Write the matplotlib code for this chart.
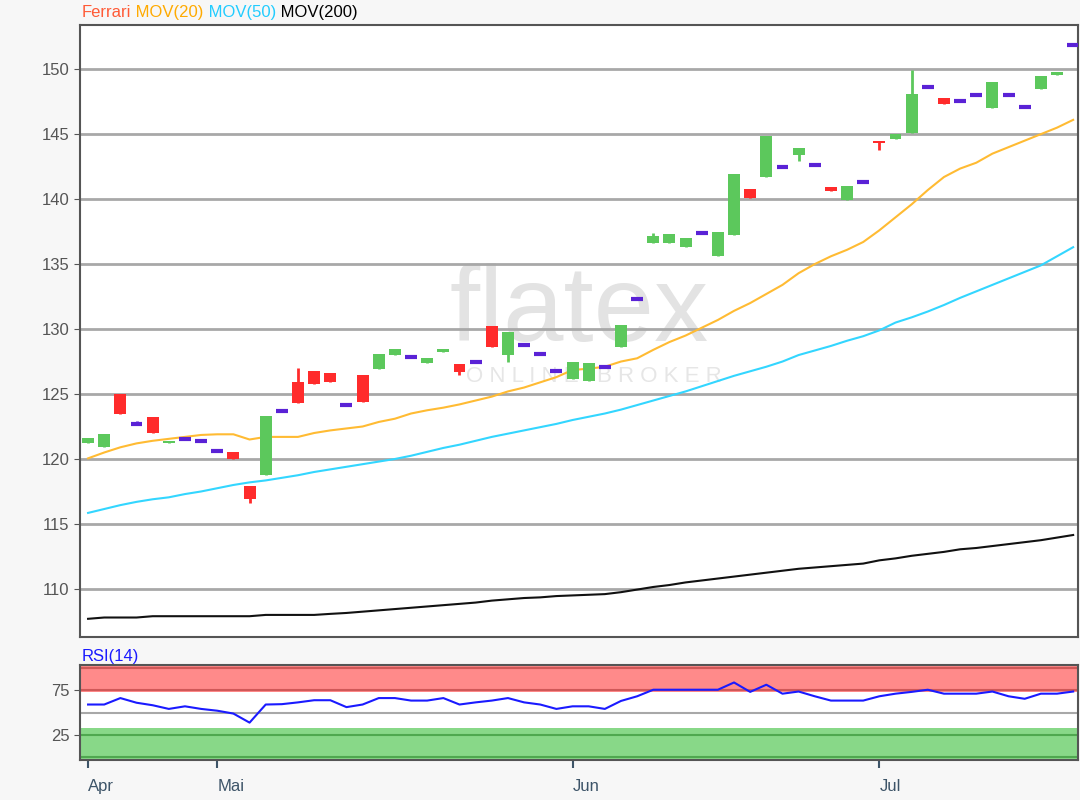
import matplotlib
matplotlib.use("Agg")
import matplotlib.pyplot as plt
import numpy as np

plt.rcParams['font.family'] = ['Liberation Sans', 'DejaVu Sans']

# daily OHLC, Ferrari, 17 Apr - 17 Jul
opens = [121.2, 120.9, 125.0, 122.7, 123.2, 121.2, 121.55, 121.4, 120.65, 120.55,
         117.9, 118.8, 123.7, 125.9, 126.8, 126.65, 124.15, 126.5, 126.9, 128.0,
         127.85, 127.35, 128.25, 127.3, 127.45, 130.2, 128.0, 128.8, 128.05, 126.8,
         126.15, 126.0, 127.1, 128.65, 132.35, 136.6, 136.6, 136.3, 137.4, 135.65,
         137.25, 140.8, 141.7, 142.5, 143.4, 142.65, 140.95, 139.9, 141.3, 144.5,
         144.6, 145.1, 148.65, 147.75, 147.55, 148.05, 147.05, 148.05, 147.1, 148.45,
         149.55, 151.85]
closes = [121.6, 121.9, 123.5, 122.7, 122.0, 121.35, 121.55, 121.4, 120.65, 120.0,
          116.9, 123.3, 123.7, 124.3, 125.8, 125.95, 124.15, 124.4, 128.1, 128.5,
          127.85, 127.75, 128.5, 126.7, 127.45, 128.6, 129.75, 128.8, 128.05, 126.8,
          127.45, 127.4, 127.1, 130.35, 132.35, 137.15, 137.3, 137.0, 137.4, 137.45,
          141.9, 140.1, 144.85, 142.5, 143.9, 142.65, 140.6, 141.0, 141.3, 144.3,
          145.0, 148.1, 148.65, 147.35, 147.55, 148.05, 149.0, 148.05, 147.1, 149.45,
          149.75, 151.85]
highs = [121.6, 121.9, 125.0, 122.95, 123.2, 121.35, 121.55, 121.4, 120.65, 120.55,
         117.9, 123.3, 123.7, 127.0, 126.8, 126.65, 124.15, 126.5, 128.1, 128.5,
         127.85, 127.75, 128.5, 127.3, 127.45, 130.2, 129.75, 128.8, 128.05, 126.8,
         127.45, 127.4, 127.1, 130.35, 132.35, 137.4, 137.3, 137.0, 137.4, 137.45,
         141.9, 140.8, 144.85, 142.5, 143.9, 142.65, 140.95, 141.0, 141.3, 144.5,
         145.0, 149.9, 148.65, 147.75, 147.55, 148.05, 149.0, 148.05, 147.1, 149.45,
         149.75, 151.85]
lows = [121.2, 120.9, 123.5, 122.7, 122.0, 121.2, 121.55, 121.4, 120.65, 120.0,
        116.6, 118.8, 123.7, 124.3, 125.8, 125.95, 124.15, 124.4, 126.9, 128.0,
        127.85, 127.35, 128.25, 126.5, 127.45, 128.6, 127.5, 128.8, 128.05, 126.8,
        126.15, 126.0, 127.1, 128.65, 132.35, 136.6, 136.6, 136.3, 137.4, 135.65,
        137.25, 140.1, 141.7, 142.5, 142.9, 142.65, 140.6, 139.9, 141.3, 143.8,
        144.6, 145.1, 148.65, 147.35, 147.55, 148.05, 147.05, 148.05, 147.1, 148.45,
        149.55, 151.85]

mov20 = [120.05, 120.5, 120.9, 121.2, 121.4, 121.55, 121.7, 121.85, 121.9, 121.9,
         121.5, 121.7, 121.7, 121.7, 122.0, 122.2, 122.35, 122.5, 122.85, 123.1,
         123.5, 123.75, 123.95, 124.2, 124.5, 124.8, 125.2, 125.5, 125.9, 126.3,
         126.85, 126.95, 127.1, 127.5, 127.75, 128.4, 129.0, 129.5, 130.1, 130.7,
         131.4, 132.0, 132.7, 133.4, 134.3, 135.0, 135.6, 136.1, 136.7, 137.6,
         138.6, 139.6, 140.7, 141.7, 142.35, 142.8, 143.5, 144.0, 144.5, 145.0,
         145.5, 146.1]
mov50 = [115.85, 116.15, 116.45, 116.7, 116.9, 117.05, 117.3, 117.5, 117.75, 118.0,
         118.2, 118.35, 118.55, 118.75, 119.0, 119.2, 119.4, 119.6, 119.8, 120.0,
         120.25, 120.55, 120.85, 121.1, 121.4, 121.7, 121.95, 122.2, 122.45, 122.7,
         123.0, 123.25, 123.5, 123.8, 124.15, 124.5, 124.85, 125.2, 125.6, 126.0,
         126.4, 126.75, 127.1, 127.5, 128.0, 128.35, 128.7, 129.1, 129.45, 129.9,
         130.5, 130.9, 131.35, 131.85, 132.4, 132.9, 133.4, 133.9, 134.4, 134.9,
         135.6, 136.3]
mov200 = [107.7, 107.8, 107.8, 107.8, 107.9, 107.9, 107.9, 107.9, 107.9, 107.9,
          107.9, 108.0, 108.0, 108.0, 108.0, 108.08, 108.15, 108.25, 108.35, 108.45,
          108.55, 108.65, 108.75, 108.85, 108.95, 109.1, 109.2, 109.3, 109.35, 109.45,
          109.5, 109.55, 109.6, 109.75, 109.95, 110.15, 110.3, 110.5, 110.65, 110.8,
          110.95, 111.1, 111.25, 111.4, 111.55, 111.65, 111.75, 111.85, 111.95, 112.2,
          112.35, 112.55, 112.7, 112.85, 113.05, 113.15, 113.3, 113.45, 113.6, 113.75,
          113.95, 114.15]

rsi = [58.9, 58.9, 66.1, 60.9, 58.1, 54.0, 56.9, 54.0, 52.0, 48.8,
       38.7, 58.9, 59.3, 61.3, 63.7, 63.7, 56.0, 58.9, 66.1, 66.1,
       63.3, 63.3, 66.1, 58.9, 61.3, 63.3, 66.1, 61.3, 58.9, 54.0,
       56.9, 56.9, 54.0, 62.9, 68.1, 75.4, 75.4, 75.4, 75.4, 75.4,
       83.5, 73.0, 81.0, 71.0, 73.4, 68.1, 63.3, 63.3, 63.3, 68.1,
       71.0, 73.0, 75.4, 71.0, 71.0, 71.0, 73.4, 68.1, 65.3, 71.0,
       71.0, 73.4]

month_labels = ['Apr', 'Mai', 'Jun', 'Jul']
month_starts = [0, 8, 30, 49]
price_ticks = [110, 115, 120, 125, 130, 135, 140, 145, 150]

GREEN = '#5cc85c'
RED = '#ff2b2b'
DOJI = '#5a22d6'

fig = plt.figure(figsize=(10.8, 8), dpi=100, facecolor='#f7f7f7')
ax = fig.add_axes([80/1080, 1-637/800, 998/1080, 612/800])
ax2 = fig.add_axes([80/1080, 1-760/800, 998/1080, 95/800])

x = np.arange(len(opens))
o = np.array(opens)
c = np.array(closes)
h = np.array(highs)
l = np.array(lows)

# watermark
ax.text(0.50, 0.53, 'flatex', transform=ax.transAxes, fontsize=78, color='#e3e3e3',
        ha='center', va='center', zorder=0)
ax.text(0.515, 0.425, 'O N L I N E   B R O K E R', transform=ax.transAxes, fontsize=16,
        color='#e6e6e6', ha='center', va='center', zorder=0)

ax.plot(x, mov200, color='#111111', lw=1.5, zorder=2)
ax.plot(x, mov50, color='#33d6ff', lw=1.5, zorder=2)
ax.plot(x, mov20, color='#ffbb33', lw=1.5, zorder=2)

up = c > o
down = c < o
flat = c == o
w = 0.74
ax.vlines(x[up], l[up], h[up], color=GREEN, lw=2, zorder=3)
ax.vlines(x[down], l[down], h[down], color=RED, lw=2, zorder=3)
ax.vlines(x[flat], l[flat], h[flat], color=DOJI, lw=2, zorder=3)
ax.bar(x[up], (c - o)[up], bottom=o[up], width=w, color=GREEN, zorder=4)
ax.bar(x[down], (o - c)[down], bottom=c[down], width=w, color=RED, zorder=4)
ax.hlines(c[flat], x[flat] - w/2, x[flat] + w/2, color=DOJI, lw=3, zorder=4)

ax.set_xlim(-0.5, 61.3)
ax.set_ylim(106.3, 153.4)
ax.set_yticks(price_ticks)
ax.yaxis.grid(True, color='#a8a8a8', lw=2)
ax.set_axisbelow(True)
ax.set_xticks([])
ax.tick_params(axis='y', labelsize=12, colors='#555555', length=4)
ax.set_facecolor('white')
for s in ax.spines.values():
    s.set_color('#555555')
    s.set_linewidth(1.5)

# legend line above the chart
t = ax.text(0.002, 1.008, 'Ferrari', transform=ax.transAxes, color='#ff5a36',
            fontsize=12, va='bottom', ha='left')
for txt, col in [(' MOV(20)', '#ffaa00'), (' MOV(50)', '#22ccff'), (' MOV(200)', '#000000')]:
    t = ax.annotate(txt, xy=(1, 0), xycoords=t, color=col, fontsize=12,
                    va='bottom', ha='left')

# RSI panel
ax2.set_facecolor('white')
ax2.axhspan(72.5, 103, color='#ff8a8a', lw=0, zorder=0)
ax2.axhspan(-3, 33, color='#88d888', lw=0, zorder=0)
ax2.axhline(100, color='#d05858', lw=1.5, zorder=1)
ax2.axhline(75, color='#d05858', lw=1.5, zorder=1)
ax2.axhline(25, color='#4fa84f', lw=1.5, zorder=1)
ax2.axhline(0, color='#4fa84f', lw=1.5, zorder=1)
ax2.axhline(50, color='#a8a8a8', lw=1.5, zorder=1)
ax2.plot(x, rsi, color='#1a1aff', lw=1.5, zorder=3)
ax2.set_xlim(-0.5, 61.3)
ax2.set_ylim(-3, 103)
ax2.set_yticks([25, 75])
ax2.tick_params(axis='y', labelsize=12, colors='#555555', length=4)
ax2.set_xticks(month_starts)
ax2.set_xticklabels(month_labels, ha='left')
ax2.tick_params(axis='x', labelsize=12, colors='#3d5468', length=6, width=1.5, pad=8)
for s in ax2.spines.values():
    s.set_color('#555555')
    s.set_linewidth(1.5)
ax2.text(0.002, 1.01, 'RSI(14)', transform=ax2.transAxes, color='#1a1aff',
         fontsize=12, va='bottom', ha='left')

fig.savefig('out.png', dpi=100, facecolor=fig.get_facecolor())
